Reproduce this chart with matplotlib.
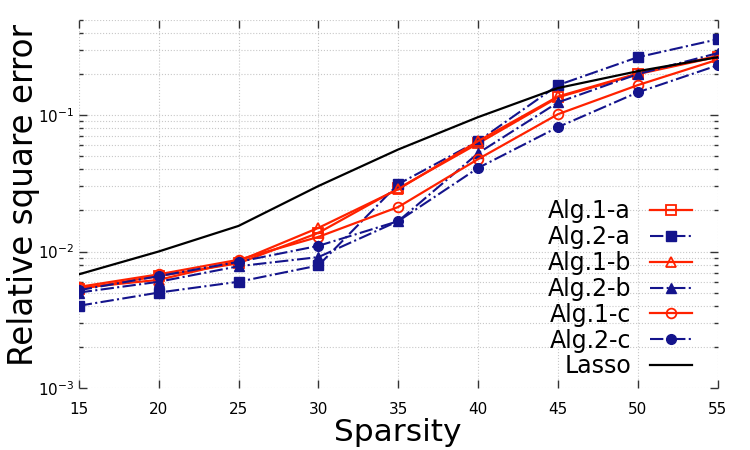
import matplotlib
matplotlib.use("Agg")
import matplotlib.pyplot as plt
from matplotlib.ticker import LogLocator, NullFormatter

# sparsity levels
sparsity = [15, 20, 25, 30, 35, 40, 45, 50, 55]

# relative square error per method
alg1_a = [0.0053, 0.0066, 0.0082, 0.0137, 0.0290, 0.0620, 0.135, 0.200, 0.268]
alg2_a = [0.0040, 0.0050, 0.0060, 0.0079, 0.0312, 0.0645, 0.166, 0.266, 0.360]
alg1_b = [0.0054, 0.0062, 0.0085, 0.0149, 0.0286, 0.0645, 0.137, 0.202, 0.272]
alg2_b = [0.0050, 0.0060, 0.0078, 0.0091, 0.0167, 0.0526, 0.124, 0.200, 0.285]
alg1_c = [0.0055, 0.0068, 0.0087, 0.0128, 0.0212, 0.0476, 0.1016, 0.166, 0.255]
alg2_c = [0.0052, 0.0066, 0.0084, 0.0110, 0.0167, 0.0410, 0.0817, 0.147, 0.232]
lasso = [0.0068, 0.0100, 0.0154, 0.0302, 0.0560, 0.0967, 0.158, 0.210, 0.266]

red = '#ff2200'
blue = '#14148c'

fig = plt.figure(figsize=(7.5, 4.5), dpi=100)
ax = fig.add_axes([0.105, 0.138, 0.852, 0.818])

ax.plot(sparsity, alg1_a, color=red, lw=1.6, marker='s', ms=7, mfc='none',
        mec=red, mew=1.3, label='Alg.1-a')
ax.plot(sparsity, alg2_a, color=blue, lw=1.5, ls='-.', marker='s', ms=7,
        mfc=blue, mec=blue, label='Alg.2-a')
ax.plot(sparsity, alg1_b, color=red, lw=1.6, marker='^', ms=7, mfc='none',
        mec=red, mew=1.3, label='Alg.1-b')
ax.plot(sparsity, alg2_b, color=blue, lw=1.5, ls='-.', marker='^', ms=7,
        mfc=blue, mec=blue, label='Alg.2-b')
ax.plot(sparsity, alg1_c, color=red, lw=1.6, marker='o', ms=7, mfc='none',
        mec=red, mew=1.3, label='Alg.1-c')
ax.plot(sparsity, alg2_c, color=blue, lw=1.5, ls='-.', marker='o', ms=7,
        mfc=blue, mec=blue, label='Alg.2-c')
ax.plot(sparsity, lasso, color='black', lw=1.6, label='Lasso')

ax.set_yscale('log')
ax.set_xlim(15, 55)
ax.set_ylim(1e-3, 0.5)
ax.set_xticks(sparsity)
ax.yaxis.set_major_locator(LogLocator(base=10, numticks=10))
ax.yaxis.set_minor_locator(LogLocator(base=10, subs=range(2, 10), numticks=10))
ax.yaxis.set_minor_formatter(NullFormatter())

# no box, inward ticks on all four sides
for s in ax.spines.values():
    s.set_visible(False)
ax.tick_params(which='both', direction='in', top=True, right=True,
               labelsize=11, color='#333333')
ax.tick_params(which='major', length=6, width=1)
ax.tick_params(which='minor', length=3, width=1)
ax.tick_params(axis='x', pad=10)

ax.grid(True, which='major', ls=':', color='#c8c8c8', lw=0.8)
ax.grid(True, which='minor', axis='y', ls=':', color='#c8c8c8', lw=0.8)

ax.set_xlabel('Sparsity', fontsize=22.5)
ax.set_ylabel('Relative square error', fontsize=23.5)
ax.xaxis.set_label_coords(0.5, -0.081)
ax.yaxis.set_label_coords(-0.061, 0.524)

ax.legend(loc='lower right', bbox_to_anchor=(0.975, 0.0), frameon=False,
          markerfirst=False, fontsize=17, labelspacing=0.08,
          handlelength=1.8, handletextpad=0.8, borderaxespad=0.0)

fig.savefig('out.png', dpi=100)
